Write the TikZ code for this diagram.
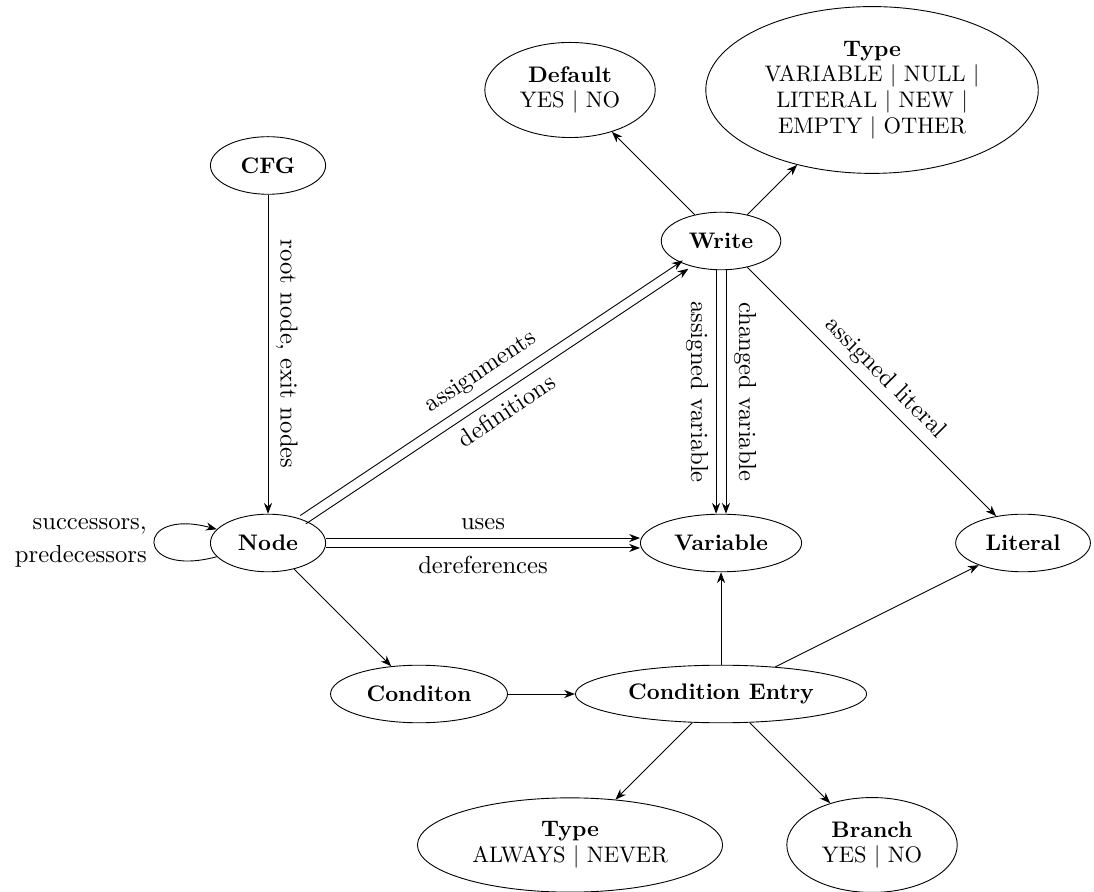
\documentclass[tikz,border=0pt]{standalone}
\usetikzlibrary{arrows.meta, shapes.geometric}

\begin{document}
\begin{tikzpicture}[
    x=2.36cm, y=2.36cm,
    >=Stealth,
    entity/.style={draw, ellipse, inner sep=4.5pt, minimum width=1.8cm,
                   minimum height=0.9cm, align=center,
                   font=\fontsize{10}{11.4}\selectfont},
    lbl/.style={midway, sloped, font=\fontsize{10.95}{14.6}\selectfont}
  ]
  \useasboundingbox (-1.775,-2.305) rectangle (5.47,3.596);

  % entities
  \node[entity] (cfg)     at (0,2.5)  {\textbf{CFG}};
  \node[entity] (nd)      at (0,0)    {\textbf{Node}};
  \node[entity] (write)   at (3,2)    {\textbf{Write}};
  \node[entity] (default) at (2,3)    {\textbf{Default}\\YES $|$ NO};
  \node[entity] (wtype)   at (4,3)    {\textbf{Type}\\VARIABLE $|$ NULL $|$\\
                                       LITERAL $|$ NEW $|$\\EMPTY $|$ OTHER};
  \node[entity] (var)     at (3,0)    {\textbf{Variable}};
  \node[entity] (lit)     at (5,0)    {\textbf{Literal}};
  \node[entity] (cond)    at (1,-1)   {\textbf{Conditon}};
  \node[entity] (centry)  at (3,-1)   {\textbf{Condition Entry}};
  \node[entity] (ctype)   at (2,-2)   {\textbf{Type}\\ALWAYS $|$ NEVER};
  \node[entity] (branch)  at (4,-2)   {\textbf{Branch}\\YES $|$ NO};

  % relations
  \draw[->] (cfg) -- (nd) node[lbl, above] {root node, exit nodes};
  \draw[->] (nd) to[loop left]
    node[left, align=right, font=\fontsize{10.95}{14.6}\selectfont]
    {successors,\\predecessors} (nd);

  \draw[->, transform canvas={shift={(-1.25pt,1.85pt)}}] (nd) -- (write)
    node[lbl, above] {assignments};
  \draw[->, transform canvas={shift={(1.25pt,-1.85pt)}}] (nd) -- (write)
    node[lbl, below] {definitions};

  \draw[->, transform canvas={yshift=2.2pt}] (nd) -- (var)
    node[lbl, above] {uses};
  \draw[->, transform canvas={yshift=-2.2pt}] (nd) -- (var)
    node[lbl, below] {dereferences};

  \draw[->, transform canvas={xshift=-2.2pt}] (write) -- (var)
    node[lbl, below] {assigned variable};
  \draw[->, transform canvas={xshift=2.2pt}] (write) -- (var)
    node[lbl, above] {changed variable};

  \draw[->] (write) -- (lit) node[lbl, above] {assigned literal};
  \draw[->] (write) -- (default);
  \draw[->] (write) -- (wtype);

  \draw[->] (nd) -- (cond);
  \draw[->] (cond) -- (centry);
  \draw[->] (centry) -- (var);
  \draw[->] (centry) -- (lit);
  \draw[->] (centry) -- (ctype);
  \draw[->] (centry) -- (branch);
\end{tikzpicture}
\end{document}
